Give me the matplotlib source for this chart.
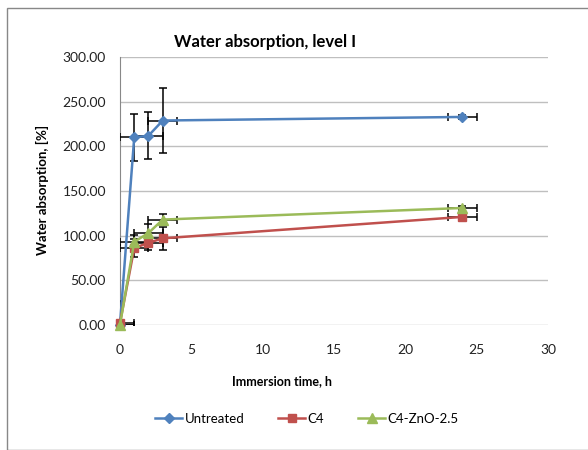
import matplotlib.pyplot as plt
from matplotlib.patches import Rectangle

plt.rcParams['font.family'] = ['Lato', 'DejaVu Sans']

# immersion time, h
time_h = [0, 1, 2, 3, 24]
time_err = [1, 1, 1, 1, 1]

untreated = [0, 210, 212, 229, 233]
untreated_err = [27, 26, 26, 36, 2]

c4 = [2, 86, 92, 97, 121]
c4_err = [3, 10, 8, 13, 2]

c4_zno = [0, 93, 103, 118, 131]
c4_zno_err = [3, 8, 10, 6, 2]

series = [
    ("Untreated", untreated, untreated_err, "#4F81BD", "D", 5),
    ("C4", c4, c4_err, "#C0504D", "s", 6),
    ("C4-ZnO-2.5", c4_zno, c4_zno_err, "#9BBB59", "^", 7),
]

fig = plt.figure(figsize=(5.88, 4.5), dpi=100)
ax = fig.add_axes([0.204, 0.278, 0.728, 0.595])

for name, vals, errs, color, marker, ms in series:
    ax.errorbar(time_h, vals, yerr=errs, xerr=time_err, fmt="none",
                ecolor="black", elinewidth=1.1, capsize=3, capthick=1.1,
                zorder=3, clip_on=True)
    ax.plot(time_h, vals, color=color, marker=marker, markersize=ms,
            linewidth=1.8, label=name, zorder=4, clip_on=False)

ax.set_xlim(0, 30)
ax.set_ylim(0, 300)
ax.set_xticks(range(0, 31, 5))
ax.set_yticks(range(0, 301, 50))
ax.set_yticklabels([f"{v:.2f}" for v in range(0, 301, 50)])
ax.yaxis.grid(True, color="#BFBFBF", linewidth=1)
ax.set_axisbelow(True)
for s in ["top", "right", "bottom"]:
    ax.spines[s].set_visible(False)
ax.spines["left"].set_color("#888888")
ax.tick_params(axis="y", length=0, pad=10, labelsize=10, colors="#222222")
ax.tick_params(axis="x", length=0, pad=14, labelsize=10, colors="#222222")

fig.text(265 / 588, 1 - 42 / 450, "Water absorption, level I",
         ha="center", va="center", fontsize=12, fontweight="bold")
fig.text(282 / 588, 1 - 381 / 450, "Immersion time, h",
         ha="center", va="center", fontsize=9, fontweight="bold")
fig.text(42 / 588, 1 - 190 / 450, "Water absorption, [%]", rotation=90,
         ha="center", va="center", fontsize=9.5, fontweight="bold")

fig.legend(loc="center", bbox_to_anchor=(307 / 588, 1 - 419 / 450), ncol=3,
           frameon=False, fontsize=9.5, columnspacing=2.6, handlelength=2.0,
           handletextpad=0.2)

fig.patches.append(Rectangle((7 / 588, 0), 1, 1 - 8 / 450,
                             transform=fig.transFigure, fill=False,
                             edgecolor="#888888", linewidth=1))

fig.savefig("out.png", dpi=100)
